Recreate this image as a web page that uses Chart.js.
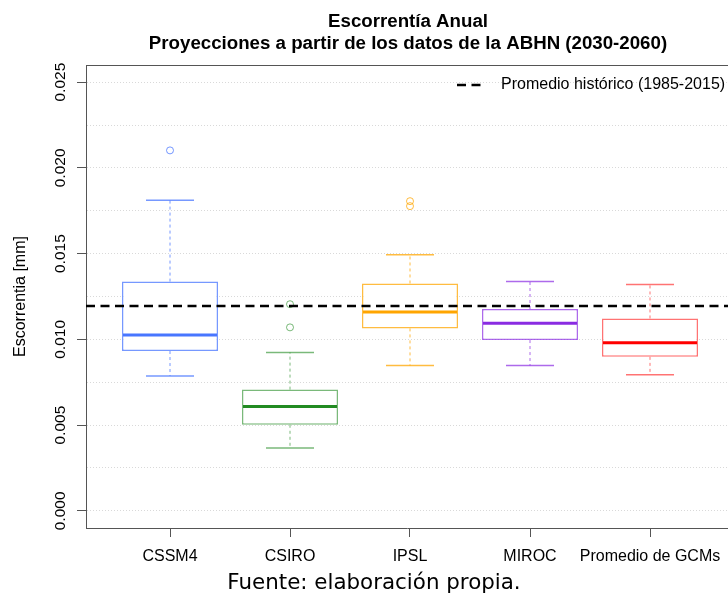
<!DOCTYPE html>
<html>
<head>
<meta charset="utf-8">
<script src="https://cdn.jsdelivr.net/npm/chart.js@4"></script>
<style>
  html, body { margin: 0; padding: 0; background: #fff; }
</style>
</head>
<body>
<canvas id="myChart" width="728" height="597"></canvas>
<script>
// datos (boxplot de escorrentia anual)
let categories = ['CSSM4', 'CSIRO', 'IPSL', 'MIROC', 'Promedio de GCMs'];
let whiskerLow  = [0.00787, 0.00366, 0.00847, 0.00847, 0.00794];
let q1          = [0.00932, 0.00502, 0.01064, 0.00996, 0.00898];
let medians     = [0.01025, 0.00608, 0.01159, 0.01094, 0.00981];
let q3          = [0.01337, 0.00707, 0.01326, 0.01177, 0.01122];
let whiskerHigh = [0.01812, 0.00924, 0.01494, 0.01337, 0.01320];
let outlierGroup  = [0, 1, 1, 2, 2];
let outlierValues = [0.02102, 0.01205, 0.01070, 0.01806, 0.01777];
let historicMean = 0.01195;
let historicLabel = 'Promedio histórico (1985-2015)';
let yTicks = [0, 0.005, 0.010, 0.015, 0.020, 0.025];
let yTickLabels = ['0.000', '0.005', '0.010', '0.015', '0.020', '0.025'];
let yGrid = [0, 0.0025, 0.005, 0.0075, 0.010, 0.0125, 0.015, 0.0175, 0.020, 0.0225, 0.025];

const xMin = 0.3, xMax = 5.65;
const yMin = -0.001, yMax = 0.026;

const boxColors = ['rgba(72,118,255,0.75)', 'rgba(34,139,34,0.6)', 'rgba(255,165,0,0.75)', 'rgba(138,43,226,0.7)', 'rgba(255,0,0,0.55)'];
const medianColors = ['#4876FF', '#228B22', '#FFA500', '#8A2BE2', '#FF0000'];
const axisColor = '#555';
const BOX_INDEX = 2;

const boxPlotExtras = {
    id: 'boxPlotExtras',
    beforeDatasetsDraw(chart) {
        // bigotes y topes
        const ctx = chart.ctx, x = chart.scales.x, y = chart.scales.y;
        ctx.save();
        categories.forEach((c, i) => {
            const px = x.getPixelForValue(i + 1);
            ctx.strokeStyle = boxColors[i];
            ctx.lineWidth = 1;
            ctx.setLineDash([3, 3]);
            ctx.beginPath();
            ctx.moveTo(px, y.getPixelForValue(q3[i]));
            ctx.lineTo(px, y.getPixelForValue(whiskerHigh[i]));
            ctx.moveTo(px, y.getPixelForValue(q1[i]));
            ctx.lineTo(px, y.getPixelForValue(whiskerLow[i]));
            ctx.stroke();
            ctx.setLineDash([]);
            ctx.lineWidth = 1.5;
            const l = x.getPixelForValue(i + 1 - 0.2), r = x.getPixelForValue(i + 1 + 0.2);
            ctx.beginPath();
            ctx.moveTo(l, y.getPixelForValue(whiskerHigh[i]));
            ctx.lineTo(r, y.getPixelForValue(whiskerHigh[i]));
            ctx.moveTo(l, y.getPixelForValue(whiskerLow[i]));
            ctx.lineTo(r, y.getPixelForValue(whiskerLow[i]));
            ctx.stroke();
        });
        ctx.restore();
    },
    afterDatasetDraw(chart, args) {
        if (args.index !== BOX_INDEX) return;
        const ctx = chart.ctx, x = chart.scales.x, y = chart.scales.y;
        ctx.save();
        ctx.lineWidth = 3;
        categories.forEach((c, i) => {
            const py = y.getPixelForValue(medians[i]);
            ctx.strokeStyle = medianColors[i];
            ctx.beginPath();
            ctx.moveTo(x.getPixelForValue(i + 1 - 0.4) + 1, py);
            ctx.lineTo(x.getPixelForValue(i + 1 + 0.4) - 1, py);
            ctx.stroke();
        });
        ctx.restore();
    },
    afterDraw(chart) {
        const ctx = chart.ctx, area = chart.chartArea, y = chart.scales.y;
        ctx.save();
        // borde superior del recuadro
        ctx.strokeStyle = axisColor;
        ctx.lineWidth = 1;
        ctx.beginPath();
        ctx.moveTo(area.left, area.top + 0.5);
        ctx.lineTo(area.right, area.top + 0.5);
        ctx.stroke();

        // etiquetas del eje y, giradas como en R
        ctx.fillStyle = '#000';
        ctx.font = '15.5px "Liberation Sans", Arial, sans-serif';
        ctx.textAlign = 'center';
        ctx.textBaseline = 'alphabetic';
        yTicks.forEach((v, i) => {
            ctx.save();
            ctx.translate(65, y.getPixelForValue(v));
            ctx.rotate(-Math.PI / 2);
            ctx.fillText(yTickLabels[i], 0, 0);
            ctx.restore();
        });
        ctx.save();
        ctx.font = '16px "Liberation Sans", Arial, sans-serif';
        ctx.translate(25, (area.top + area.bottom) / 2);
        ctx.rotate(-Math.PI / 2);
        ctx.fillText('Escorrentia [mm]', 0, 0);
        ctx.restore();

        // titulo
        const cx = (area.left + area.right) / 2;
        ctx.font = 'bold 18.7px "Liberation Sans", Arial, sans-serif';
        ctx.fillText('Escorrentía Anual', cx + 1, 27);
        ctx.fillText('Proyecciones a partir de los datos de la ABHN (2030-2060)', cx + 1, 49);

        // leyenda
        ctx.strokeStyle = '#000';
        ctx.lineWidth = 2.5;
        ctx.setLineDash([9, 5.5]);
        ctx.beginPath();
        ctx.moveTo(457, 85);
        ctx.lineTo(484, 85);
        ctx.stroke();
        ctx.setLineDash([]);
        ctx.font = '16px "Liberation Sans", Arial, sans-serif';
        ctx.textAlign = 'left';
        ctx.textBaseline = 'middle';
        ctx.fillText(historicLabel, 501, 85);

        // fuente
        ctx.font = '21.4px "DejaVu Sans", sans-serif';
        ctx.textAlign = 'center';
        ctx.textBaseline = 'alphabetic';
        ctx.fillText('Fuente: elaboración propia.', 374, 589);
        ctx.restore();
    }
};

let chartElement = document.getElementById('myChart').getContext('2d');

let myChart = new Chart(chartElement, {
    type: 'bar',
    data: {
        datasets: [{
            type: 'line',
            data: [{x: xMin, y: historicMean}, {x: xMax, y: historicMean}],
            borderColor: '#000',
            borderWidth: 2.5,
            borderDash: [9, 5.5],
            pointRadius: 0,
            pointHoverRadius: 0,
            fill: false
        }, {
            type: 'scatter',
            data: outlierValues.map((v, i) => ({x: outlierGroup[i] + 1, y: v})),
            pointRadius: 3.5,
            pointBorderWidth: 1,
            pointBackgroundColor: 'rgba(0,0,0,0)',
            pointBorderColor: outlierGroup.map(g => boxColors[g])
        }, {
            type: 'bar',
            data: categories.map((c, i) => ({x: i + 1, y: [q1[i], q3[i]]})),
            backgroundColor: '#fff',
            borderColor: boxColors,
            borderWidth: 1.5,
            borderSkipped: false,
            barPercentage: 0.8,
            categoryPercentage: 1
        }]
    },
    options: {
        responsive: false,
        animation: false,
        devicePixelRatio: 1,
        layout: { autoPadding: false, padding: { top: 65, left: 0, right: 0, bottom: 0 } },
        plugins: {
            legend: { display: false },
            tooltip: { enabled: false },
            title: { display: false }
        },
        scales: {
            x: {
                type: 'linear',
                min: xMin,
                max: xMax,
                offset: false,
                afterBuildTicks: (scale) => { scale.ticks = categories.map((c, i) => ({value: i + 1})); },
                afterFit: (scale) => {
                    scale.height = 69;
                    scale.paddingLeft = 0;
                    scale.paddingRight = 0;
                },
                ticks: {
                    callback: (v) => categories[v - 1],
                    color: '#000',
                    padding: 10,
                    maxRotation: 0,
                    autoSkip: false,
                    font: { family: '"Liberation Sans", Arial, sans-serif', size: 16 }
                },
                grid: {
                    drawOnChartArea: false,
                    offset: false,
                    tickLength: 9,
                    tickColor: axisColor
                },
                border: { display: true, color: axisColor, width: 1 }
            },
            y: {
                type: 'linear',
                min: yMin,
                max: yMax,
                afterBuildTicks: (scale) => { scale.ticks = yGrid.map(v => ({value: v})); },
                afterFit: (scale) => {
                    scale.width = 86;
                    scale.paddingTop = 0;
                    scale.paddingBottom = 0;
                },
                ticks: { display: false },
                grid: {
                    color: '#d9d9d9',
                    lineWidth: 1,
                    tickLength: 9,
                    tickColor: (ctx) => yTicks.some(t => Math.abs(t - ctx.tick.value) < 1e-7) ? axisColor : 'rgba(0,0,0,0)'
                },
                border: { display: true, color: axisColor, width: 1, dash: [1, 2] }
            }
        }
    },
    plugins: [boxPlotExtras]
});
</script>
</body>
</html>
